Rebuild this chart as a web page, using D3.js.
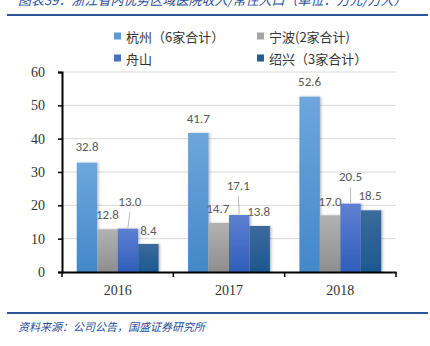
<!DOCTYPE html>
<html>
<head>
<meta charset="utf-8">
<script src="https://cdn.jsdelivr.net/npm/d3@7"></script>
<style>
  html, body { margin: 0; padding: 0; background: #fff; }
  svg { display: block; }
</style>
</head>
<body>
<svg id="chart" width="430" height="346"></svg>
<script>
// Hospital revenue per resident, selected cities in Zhejiang (万元/万人)
const years = ["2016", "2017", "2018"];
const seriesNames = ["杭州（6家合计）", "宁波(2家合计)", "舟山", "绍兴（3家合计）"];
const hangzhou = [32.8, 41.7, 52.6];
const ningbo = [12.8, 14.7, 17.0];
const zhoushan = [13.0, 17.1, 20.5];
const shaoxing = [8.4, 13.8, 18.5];
const yTicks = [0, 10, 20, 30, 40, 50, 60];

const seriesValues = [hangzhou, ningbo, zhoushan, shaoxing];
const colorsTop = ["#6EA6DD", "#B2B2B2", "#5E80D2", "#3D6A9B"];
const colorsBottom = ["#4388C8", "#8E8E8E", "#2F5EBA", "#1C5890"];
const swatch = ["#5B9BD5", "#A5A5A5", "#4472C4", "#255E91"];

const svg = d3.select("#chart");
const defs = svg.append("defs");
seriesNames.forEach((s, i) => {
  const g = defs.append("linearGradient").attr("id", "grad" + i)
    .attr("x1", 0).attr("y1", 0).attr("x2", 0).attr("y2", 1);
  g.append("stop").attr("offset", "0%").attr("stop-color", colorsTop[i]);
  g.append("stop").attr("offset", "100%").attr("stop-color", colorsBottom[i]);
});
const shadow = defs.append("filter").attr("id", "shadow")
  .attr("x", "-20%").attr("y", "-10%").attr("width", "150%").attr("height", "130%");
shadow.append("feDropShadow").attr("dx", 1.5).attr("dy", 0).attr("stdDeviation", 1.2)
  .attr("flood-color", "#000").attr("flood-opacity", 0.25);

// Header / footer
svg.append("text")
  .attr("x", 18).attr("y", 5)
  .attr("font-family", "Noto Sans CJK SC")
  .attr("font-size", 13).attr("font-style", "italic")
  .attr("fill", "#1F4E96")
  .text("图表39：浙江省内优势区域医院收入/常住人口（单位：万元/万人）");
svg.append("line").attr("x1", 7).attr("x2", 428).attr("y1", 15).attr("y2", 15)
  .attr("stroke", "#2C5597").attr("stroke-width", 2);
svg.append("line").attr("x1", 7).attr("x2", 428).attr("y1", 313).attr("y2", 313)
  .attr("stroke", "#2C5597").attr("stroke-width", 2);
svg.append("text")
  .attr("x", 18).attr("y", 331)
  .attr("font-family", "Noto Sans CJK SC")
  .attr("font-size", 11).attr("font-style", "italic")
  .attr("fill", "#1F4E96")
  .text("资料来源：公司公告，国盛证券研究所");

// Scales
const margin = { left: 62, right: 396, top: 72, bottom: 272 };
const x = d3.scaleBand().domain(years).range([margin.left, margin.right]).paddingInner(0).paddingOuter(0);
const x1 = d3.scaleBand().domain(d3.range(seriesNames.length))
  .range([0, x.bandwidth()]).paddingOuter(0.72).paddingInner(0);
const y = d3.scaleLinear().domain([0, 60]).range([margin.bottom, margin.top]);

// Gridlines
svg.append("g").selectAll("line").data(yTicks.filter(d => d > 0)).join("line")
  .attr("x1", margin.left).attr("x2", margin.right)
  .attr("y1", d => y(d)).attr("y2", d => y(d))
  .attr("stroke", "#D9D9D9").attr("stroke-width", 1);

// Bars
const groups = svg.append("g").selectAll("g").data(years).join("g")
  .attr("transform", d => `translate(${x(d)},0)`);
seriesValues.forEach((vals, si) => {
  groups.append("rect")
    .attr("x", x1(si))
    .attr("width", x1.bandwidth())
    .attr("y", (d, i) => y(vals[i]))
    .attr("height", (d, i) => y(0) - y(vals[i]))
    .attr("fill", `url(#grad${si})`)
    .attr("filter", "url(#shadow)");
});

// Data labels; some are lifted off the bar with a leader line
const labelOffsets = [
  [[0, 16], [0, 15], [0, 15]],
  [[0, 15], [-1, 15], [0, 14]],
  [[2, 27], [-1, 30], [0, 27]],
  [[0, 14], [-1, 15], [-1, 15]]
];
seriesValues.forEach((vals, si) => {
  vals.forEach((v, i) => {
    const cx = x(years[i]) + x1(si) + x1.bandwidth() / 2;
    const [dx, dy] = labelOffsets[si][i];
    const ly = y(v) - dy;
    if (si === 2) {
      svg.append("line")
        .attr("x1", cx + dx).attr("x2", cx)
        .attr("y1", ly + 11).attr("y2", y(v) - 1)
        .attr("stroke", "#A6A6A6").attr("stroke-width", 0.8);
    }
    svg.append("text")
      .attr("x", cx + dx).attr("y", ly)
      .attr("text-anchor", "middle").attr("dominant-baseline", "central")
      .attr("font-family", "Carlito, 'Liberation Sans', sans-serif")
      .attr("font-size", 13).attr("fill", "#595959")
      .text(v.toFixed(1));
  });
});

// Axes
const yAxis = svg.append("g").attr("transform", `translate(${margin.left},0)`)
  .call(d3.axisLeft(y).tickValues(yTicks).tickSize(4).tickPadding(13));
yAxis.select(".domain").attr("stroke", "#000").attr("stroke-width", 2);
yAxis.selectAll(".tick line").attr("stroke", "#000").attr("stroke-width", 1.5);
yAxis.selectAll("text").attr("font-family", "'Liberation Serif', serif")
  .attr("font-size", 14).attr("fill", "#333");

const xAxis = svg.append("g").attr("transform", `translate(0,${margin.bottom})`)
  .call(d3.axisBottom(x).tickSize(0).tickPadding(13));
xAxis.select(".domain").attr("stroke", "#000").attr("stroke-width", 2);
xAxis.selectAll("text").attr("font-family", "'Liberation Serif', serif")
  .attr("font-size", 14).attr("fill", "#333");
// Category boundary ticks
svg.append("g").selectAll("line")
  .data([...years.map(d => x(d)), margin.right]).join("line")
  .attr("x1", d => d).attr("x2", d => d)
  .attr("y1", margin.bottom).attr("y2", margin.bottom + 5)
  .attr("stroke", "#000").attr("stroke-width", 1.5);

// Legend
const legendPos = [[114, 36], [257, 36], [114, 58], [257, 58]];
const legend = svg.append("g").selectAll("g").data(seriesNames).join("g")
  .attr("transform", (d, i) => `translate(${legendPos[i][0]},${legendPos[i][1]})`);
legend.append("rect").attr("x", 0).attr("y", -3.5).attr("width", 7).attr("height", 7)
  .attr("fill", (d, i) => swatch[i]);
legend.append("text").attr("x", 12).attr("y", 0).attr("dominant-baseline", "central")
  .attr("font-family", "'Noto Sans CJK SC'").attr("font-size", 13).attr("fill", "#333")
  .text(d => d);
</script>
</body>
</html>
